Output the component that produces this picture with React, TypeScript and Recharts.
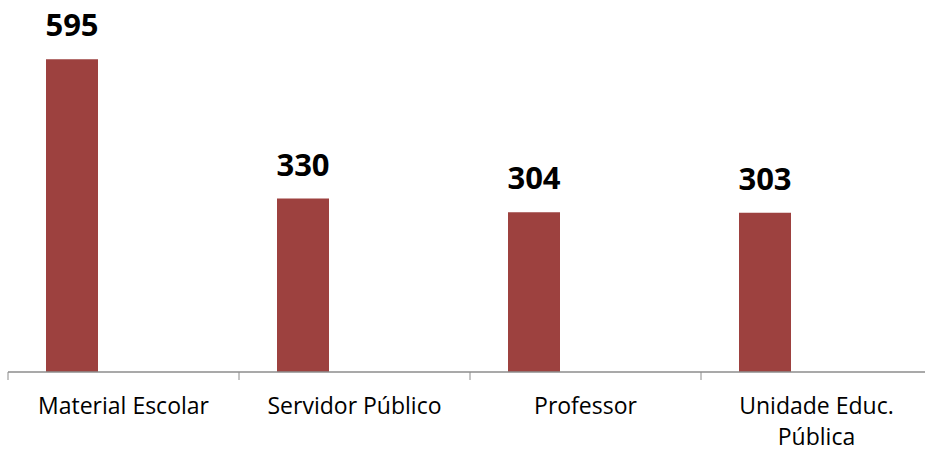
import { BarChart, Bar, XAxis, YAxis, LabelList } from "recharts"

const categorias = ["Material Escolar", "Servidor Público", "Professor", "Unidade Educ. Pública"]
const rotulos = [["Material Escolar"], ["Servidor Público"], ["Professor"], ["Unidade Educ.", "Pública"]]
const valores = [595, 330, 304, 303]

const data = categorias.map((categoria, i) => ({ categoria, valor: valores[i] }))

const CHART_W = 940
const MARGIN_X = 8
const BAND = (CHART_W - 2 * MARGIN_X) / categorias.length
const FONT = "'Open Sans', 'DejaVu Sans', sans-serif"
const AXIS_COLOR = "#8c8c8c"
const BAR_COLOR = "#9d413f"

function CategoryTick(props: any) {
	const { x, y, index } = props
	const axisY = y - 26
	const last = index === categorias.length - 1
	const linhas = rotulos[index] || []
	return (
		<g>
			<line x1={x - BAND / 2} x2={x - BAND / 2} y1={axisY} y2={axisY + 8} stroke={AXIS_COLOR} />
			{last && (
				<line x1={x + BAND / 2} x2={x + BAND / 2} y1={axisY} y2={axisY + 8} stroke={AXIS_COLOR} />
			)}
			<text x={x} y={y + 16} textAnchor="middle" fill="#000" style={{ fontSize: 23, fontFamily: FONT }}>
				{linhas.map((l, i) => (
					<tspan key={i} x={x} dy={i === 0 ? 0 : 31}>
						{l}
					</tspan>
				))}
			</text>
		</g>
	)
}

export default function App() {
	return (
		<div
			style={{
				position: "fixed",
				left: 0,
				top: 0,
				width: 925,
				height: 451,
				overflow: "hidden",
				background: "#fff",
			}}
		>
			<BarChart
				width={CHART_W}
				height={451}
				data={data}
				margin={{ top: 4, right: MARGIN_X, left: MARGIN_X, bottom: 0 }}
				barGap={0}
			>
				<XAxis
					dataKey="categoria"
					height={79}
					axisLine={{ stroke: AXIS_COLOR, strokeWidth: 1.5 }}
					tickLine={false}
					tickSize={8}
					tickMargin={18}
					interval={0}
					tick={<CategoryTick />}
				/>
				<YAxis hide domain={[0, 700]} />
				<Bar dataKey="valor" fill={BAR_COLOR} barSize={52} isAnimationActive={false}>
					<LabelList
						dataKey="valor"
						position="top"
						offset={23}
						style={{ fontSize: 31, fontWeight: 700, fontFamily: FONT, fill: "#000" }}
					/>
				</Bar>
				<Bar dataKey="serie2" fill={BAR_COLOR} barSize={52} isAnimationActive={false} />
				<Bar dataKey="serie3" fill={BAR_COLOR} barSize={52} isAnimationActive={false} />
			</BarChart>
		</div>
	)
}
